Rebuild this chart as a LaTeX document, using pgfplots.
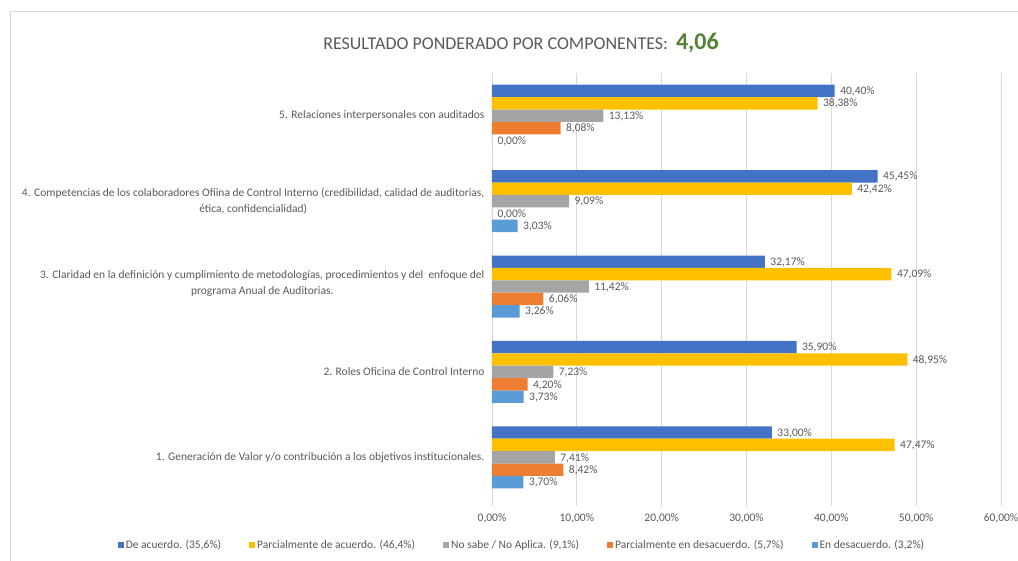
\documentclass[border=0pt]{standalone}
\usepackage{fontspec}
\setmainfont{Carlito}
\usepackage{pgfplots}
\pgfplotsset{compat=1.18}
\usepackage{xcolor}
\definecolor{cblue}{HTML}{4472C4}
\definecolor{cyellow}{HTML}{FFC000}
\definecolor{cgray}{HTML}{A5A5A5}
\definecolor{corange}{HTML}{ED7D31}
\definecolor{clight}{HTML}{5B9BD5}
\definecolor{txtgray}{HTML}{595959}
\definecolor{gridgray}{HTML}{D9D9D9}
\definecolor{titlegreen}{HTML}{548235}

\begin{document}
\begin{tikzpicture}[x=1pt,y=1pt]
  \useasboundingbox (0,0) rectangle (1018,560);
  % chart frame, cut by the page on the right and bottom
  \draw[gridgray, line width=1pt] (10,-10) rectangle (1030,548);

  \node[anchor=center] at (521,517) {%
    {\color{txtgray}\fontsize{18}{21}\selectfont RESULTADO PONDERADO POR COMPONENTES:}\hspace{8pt}%
    {\color{titlegreen}\bfseries\fontsize{24}{27}\selectfont 4,06}};

  \begin{axis}[
    at={(492pt,54pt)}, anchor=south west,
    scale only axis, width=509pt, height=433pt,
    xbar, bar width=12.4pt,
    xmin=0, xmax=60, ymin=0.43, ymax=5.5,
    xtick={0,10,...,60},
    xticklabels={{0,00\%},{10,00\%},{20,00\%},{30,00\%},{40,00\%},{50,00\%},{60,00\%}},
    ytick={1,2,3,4,5},
    yticklabels={
      {1. Generación de Valor y/o contribución a los objetivos institucionales.},
      {2. Roles Oficina de Control Interno},
      {\raisebox{8pt}{3. Claridad en la definición y cumplimiento de metodologías, procedimientos y del \ enfoque del}\\\raisebox{8pt}{programa Anual de Auditorias.}},
      {4. Competencias de los colaboradores Ofiina de Control Interno (credibilidad, calidad de auditorias,\\ética, confidencialidad)},
      {5. Relaciones interpersonales con auditados}},
    yticklabel style={align=center, font=\fontsize{11.5}{16.5}\selectfont, text=txtgray, xshift=-4pt},
    xticklabel style={font=\fontsize{11.5}{14}\selectfont, text=txtgray, yshift=-4pt},
    major tick length=0pt,
    axis line style={draw=none},
    xmajorgrids, grid style={gridgray, line width=0.9pt},
    point meta=x,
    nodes near coords={\pgfmathprintnumber[fixed,fixed zerofill,precision=2,use comma,assume math mode=true]{\pgfplotspointmeta}\%},
    nodes near coords style={font=\fontsize{11.5}{14}\selectfont, text=txtgray, anchor=west, xshift=2pt, yshift=-0.5pt},
    legend columns=5,
    legend style={at={(axis description cs:0.059,-0.09)}, anchor=center, draw=none,
      font=\fontsize{11.5}{14}\selectfont, text=txtgray,
      /tikz/every even column/.append style={column sep=26pt}},
    legend image code/.code={\fill[#1, draw=none] (0pt,-3pt) rectangle (6pt,3pt);},
  ]
    \addplot[fill=cblue, draw=none, bar shift=24.8pt] coordinates {(33.00,1) (35.90,2) (32.17,3) (45.45,4) (40.40,5)};
    \addplot[fill=cyellow, draw=none, bar shift=12.4pt] coordinates {(47.47,1) (48.95,2) (47.09,3) (42.42,4) (38.38,5)};
    \addplot[fill=cgray, draw=none, bar shift=0pt] coordinates {(7.41,1) (7.23,2) (11.42,3) (9.09,4) (13.13,5)};
    \addplot[fill=corange, draw=none, bar shift=-12.4pt] coordinates {(8.42,1) (4.20,2) (6.06,3) (0.00,4) (8.08,5)};
    \addplot[fill=clight, draw=none, bar shift=-24.8pt] coordinates {(3.70,1) (3.73,2) (3.26,3) (3.03,4) (0.00,5)};
    \legend{{De acuerdo. (35,6\%)}, {Parcialmente de acuerdo. (46,4\%)}, {No sabe / No Aplica. (9,1\%)}, {Parcialmente en desacuerdo. (5,7\%)}, {En desacuerdo. (3,2\%)}}
  \end{axis}
\end{tikzpicture}
\end{document}
